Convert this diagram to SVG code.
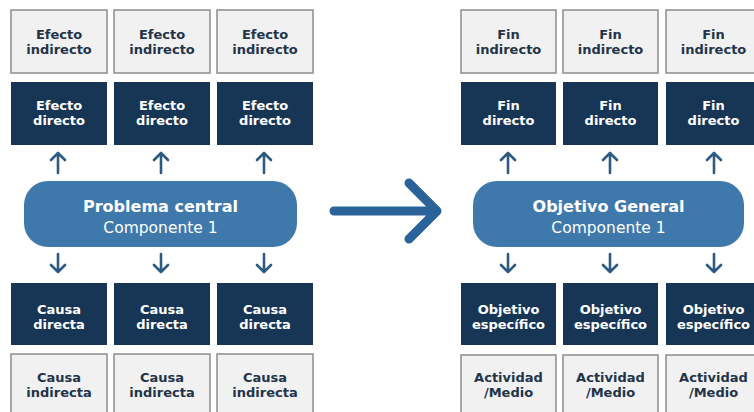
<svg xmlns="http://www.w3.org/2000/svg" width="754" height="412" viewBox="0 0 754 412">
<defs>
<style>
.light{fill:#f1f1f1;stroke:#8c8c8c;stroke-width:1.5}
.dark{fill:#173656}
.pill{fill:#3f79ac}
.t{font-family:"DejaVu Sans","Open Sans",sans-serif;font-weight:700;font-size:13px;text-anchor:middle}
.tl{fill:#23344a}
.td{fill:#ffffff}
.pb{font-family:"DejaVu Sans","Open Sans",sans-serif;font-weight:700;font-size:16px;fill:#ffffff;text-anchor:middle}
.pr{font-family:"DejaVu Sans","Open Sans",sans-serif;font-weight:400;font-size:15.5px;fill:#ffffff;text-anchor:middle}
.ar{fill:none;stroke:#2c5a82;stroke-width:2.6;stroke-linecap:round;stroke-linejoin:round}
.big{fill:none;stroke:#2a629a;stroke-width:9;stroke-linecap:round;stroke-linejoin:round}
</style>
</defs>
<rect width="754" height="412" fill="#ffffff"/>

<!-- Left tree -->
<g id="efecto-indirecto-1"><rect class="light" x="11" y="10" width="96" height="63"/><text class="t tl" x="59" y="39">Efecto</text><text class="t tl" x="59" y="54">indirecto</text></g>
<g id="efecto-indirecto-2"><rect class="light" x="114" y="10" width="96" height="63"/><text class="t tl" x="162" y="39">Efecto</text><text class="t tl" x="162" y="54">indirecto</text></g>
<g id="efecto-indirecto-3"><rect class="light" x="217" y="10" width="96" height="63"/><text class="t tl" x="265" y="39">Efecto</text><text class="t tl" x="265" y="54">indirecto</text></g>

<g id="efecto-directo-1"><rect class="dark" x="11" y="82" width="96" height="63"/><text class="t td" x="59" y="110">Efecto</text><text class="t td" x="59" y="125">directo</text></g>
<g id="efecto-directo-2"><rect class="dark" x="114" y="82" width="96" height="63"/><text class="t td" x="162" y="110">Efecto</text><text class="t td" x="162" y="125">directo</text></g>
<g id="efecto-directo-3"><rect class="dark" x="217" y="82" width="96" height="63"/><text class="t td" x="265" y="110">Efecto</text><text class="t td" x="265" y="125">directo</text></g>

<g id="problema-central"><rect class="pill" x="24" y="181" width="273" height="66" rx="24"/><text class="pb" x="160.5" y="212">Problema central</text><text class="pr" x="160.5" y="233">Componente 1</text></g>

<g id="causa-directa-1"><rect class="dark" x="11" y="283" width="96" height="62"/><text class="t td" x="59" y="314">Causa</text><text class="t td" x="59" y="329">directa</text></g>
<g id="causa-directa-2"><rect class="dark" x="114" y="283" width="96" height="62"/><text class="t td" x="162" y="314">Causa</text><text class="t td" x="162" y="329">directa</text></g>
<g id="causa-directa-3"><rect class="dark" x="217" y="283" width="96" height="62"/><text class="t td" x="265" y="314">Causa</text><text class="t td" x="265" y="329">directa</text></g>

<g id="causa-indirecta-1"><rect class="light" x="11" y="354" width="96" height="66"/><text class="t tl" x="59" y="382">Causa</text><text class="t tl" x="59" y="397">indirecta</text></g>
<g id="causa-indirecta-2"><rect class="light" x="114" y="354" width="96" height="66"/><text class="t tl" x="162" y="382">Causa</text><text class="t tl" x="162" y="397">indirecta</text></g>
<g id="causa-indirecta-3"><rect class="light" x="217" y="354" width="96" height="66"/><text class="t tl" x="265" y="382">Causa</text><text class="t tl" x="265" y="397">indirecta</text></g>

<!-- Right tree -->
<g id="fin-indirecto-1"><rect class="light" x="461" y="10" width="95" height="63"/><text class="t tl" x="508.5" y="39">Fin</text><text class="t tl" x="508.5" y="54">indirecto</text></g>
<g id="fin-indirecto-2"><rect class="light" x="563" y="10" width="95" height="63"/><text class="t tl" x="610.5" y="39">Fin</text><text class="t tl" x="610.5" y="54">indirecto</text></g>
<g id="fin-indirecto-3"><rect class="light" x="666" y="10" width="95" height="63"/><text class="t tl" x="713.5" y="39">Fin</text><text class="t tl" x="713.5" y="54">indirecto</text></g>

<g id="fin-directo-1"><rect class="dark" x="461" y="82" width="95" height="63"/><text class="t td" x="508.5" y="110">Fin</text><text class="t td" x="508.5" y="125">directo</text></g>
<g id="fin-directo-2"><rect class="dark" x="563" y="82" width="95" height="63"/><text class="t td" x="610.5" y="110">Fin</text><text class="t td" x="610.5" y="125">directo</text></g>
<g id="fin-directo-3"><rect class="dark" x="666" y="82" width="95" height="63"/><text class="t td" x="713.5" y="110">Fin</text><text class="t td" x="713.5" y="125">directo</text></g>

<g id="objetivo-general"><rect class="pill" x="473" y="181" width="271" height="66" rx="24"/><text class="pb" x="608.5" y="212">Objetivo General</text><text class="pr" x="608.5" y="233">Componente 1</text></g>

<g id="objetivo-especifico-1"><rect class="dark" x="461" y="283" width="95" height="62"/><text class="t td" x="508.5" y="314">Objetivo</text><text class="t td" x="508.5" y="329">específico</text></g>
<g id="objetivo-especifico-2"><rect class="dark" x="563" y="283" width="95" height="62"/><text class="t td" x="610.5" y="314">Objetivo</text><text class="t td" x="610.5" y="329">específico</text></g>
<g id="objetivo-especifico-3"><rect class="dark" x="666" y="283" width="95" height="62"/><text class="t td" x="713.5" y="314">Objetivo</text><text class="t td" x="713.5" y="329">específico</text></g>

<g id="actividad-1"><rect class="light" x="461" y="355" width="95" height="66"/><text class="t tl" x="508.5" y="382">Actividad</text><text class="t tl" x="508.5" y="397">/Medio</text></g>
<g id="actividad-2"><rect class="light" x="563" y="355" width="95" height="66"/><text class="t tl" x="610.5" y="382">Actividad</text><text class="t tl" x="610.5" y="397">/Medio</text></g>
<g id="actividad-3"><rect class="light" x="666" y="355" width="95" height="66"/><text class="t tl" x="713.5" y="382">Actividad</text><text class="t tl" x="713.5" y="397">/Medio</text></g>

<!-- Connectors -->
<g id="connectors">
<path class="ar" d="M58 173V153M51 160L58 153L65 160"/>
<path class="ar" d="M161 173V153M154 160L161 153L168 160"/>
<path class="ar" d="M264 173V153M257 160L264 153L271 160"/>
<path class="ar" d="M58 254V272M51 265L58 272L65 265"/>
<path class="ar" d="M161 254V272M154 265L161 272L168 265"/>
<path class="ar" d="M264 254V272M257 265L264 272L271 265"/>
<path class="ar" d="M508 173V153M501 160L508 153L515 160"/>
<path class="ar" d="M610 173V153M603 160L610 153L617 160"/>
<path class="ar" d="M714 173V153M707 160L714 153L721 160"/>
<path class="ar" d="M508 254V272M501 265L508 272L515 265"/>
<path class="ar" d="M610 254V272M603 265L610 272L617 265"/>
<path class="ar" d="M714 254V272M707 265L714 272L721 265"/>
<path class="big" d="M334 211H436M409 183L437 211L409 239"/>
</g>
</svg>
